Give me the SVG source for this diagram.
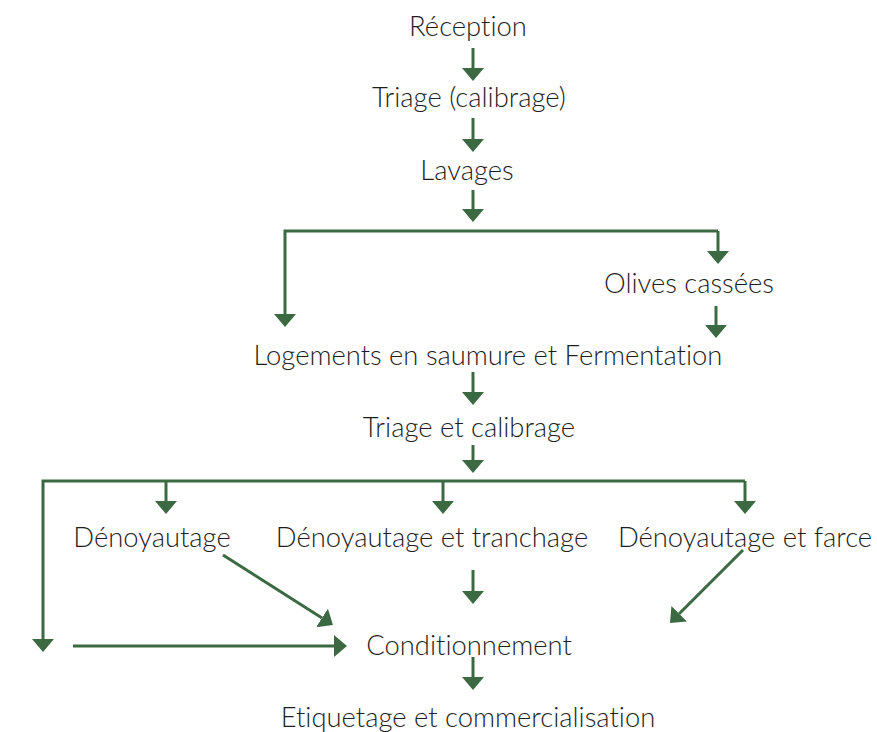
<svg xmlns="http://www.w3.org/2000/svg" width="877" height="732" viewBox="0 0 877 732">
<style>
text{font-family:"Lato","Open Sans","Liberation Sans",sans-serif;font-weight:300;font-size:27.4px;fill:#1e1e1e;text-anchor:middle;font-variant-ligatures:none}
.c{stroke:#3b6a42;stroke-width:3;fill:none}
</style>
<defs>
<marker id="a" markerUnits="userSpaceOnUse" markerWidth="14" markerHeight="22" refX="0" refY="11" orient="auto" viewBox="0 0 14 22">
<path d="M0,0 L13,11 L0,22 z" fill="#3b6a42"/>
</marker>
</defs>
<rect width="877" height="732" fill="#fff"/>
<g id="connectors" class="c">
<path class="c" d="M473,48 V68" marker-end="url(#a)"/>
<path class="c" d="M473,118 V139" marker-end="url(#a)"/>
<path class="c" d="M473,190 V209" marker-end="url(#a)"/>
<path class="c" d="M718,231 H285 V314" marker-end="url(#a)"/>
<path class="c" d="M718,231 V251" marker-end="url(#a)"/>
<path class="c" d="M716,306 V325" marker-end="url(#a)"/>
<path class="c" d="M473,372 V392" marker-end="url(#a)"/>
<path class="c" d="M473,445 V460" marker-end="url(#a)"/>
<path class="c" d="M745,481 H43 V639" marker-end="url(#a)"/>
<path class="c" d="M166,481 V501" marker-end="url(#a)"/>
<path class="c" d="M443,481 V501" marker-end="url(#a)"/>
<path class="c" d="M745,481 V501" marker-end="url(#a)"/>
<path class="c" d="M223,555 L322,618" marker-end="url(#a)"/>
<path class="c" d="M473,570 V591" marker-end="url(#a)"/>
<path class="c" d="M743,550 L679.2,613.8" marker-end="url(#a)"/>
<path class="c" d="M73,646 H334" marker-end="url(#a)"/>
<path class="c" d="M473,657 V677" marker-end="url(#a)"/>
</g>
<g id="n1"><text x="468" y="36">Réception</text></g>
<g id="n2"><text x="469" y="107">Triage (calibrage)</text></g>
<g id="n3"><text x="467" y="180">Lavages</text></g>
<g id="n4"><text x="689" y="293">Olives cassées</text></g>
<g id="n5"><text x="488" y="365">Logements en saumure et Fermentation</text></g>
<g id="n6"><text x="469" y="437">Triage et calibrage</text></g>
<g id="n7"><text x="152" y="547">Dénoyautage</text></g>
<g id="n8"><text x="432" y="547">Dénoyautage et tranchage</text></g>
<g id="n9"><text x="745" y="547">Dénoyautage et farce</text></g>
<g id="n10"><text x="469" y="655">Conditionnement</text></g>
<g id="n11"><text x="468" y="727">Etiquetage et commercialisation</text></g>
</svg>
